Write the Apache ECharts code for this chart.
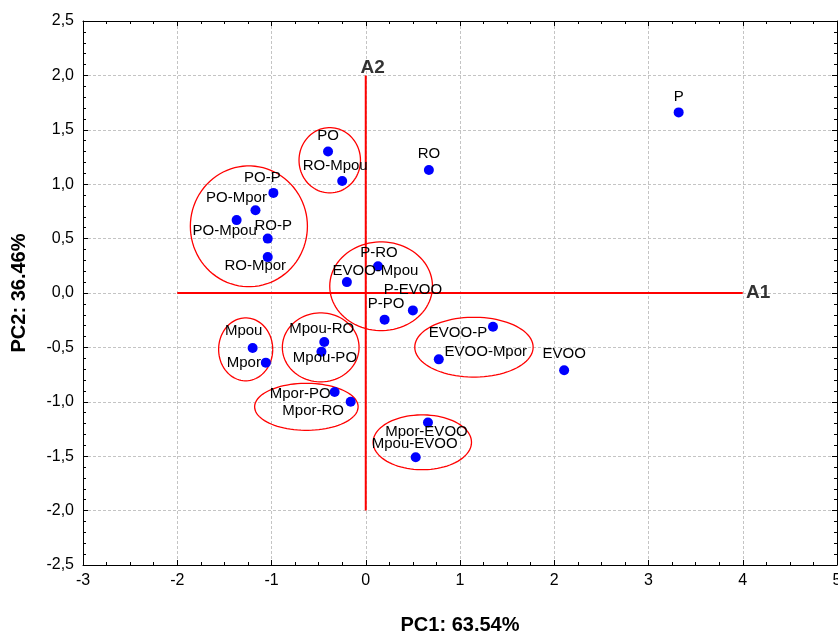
<!DOCTYPE html>
<html><head><meta charset="utf-8">
<script src="https://cdn.jsdelivr.net/npm/echarts@6/dist/echarts.min.js"></script>
<style>html,body{margin:0;padding:0;background:#fff}#c{width:838px;height:632px}</style>
</head><body><div id="c"></div>
<script>
// ---- data ----
const names = ['P','RO','PO','RO-Mpou','PO-P','PO-Mpor','PO-Mpou','RO-P','RO-Mpor','P-RO','EVOO-Mpou','P-EVOO','P-PO','Mpou-RO','Mpou-PO','EVOO-P','EVOO-Mpor','EVOO','Mpor-EVOO','Mpou-EVOO','Mpor-PO','Mpor-RO','Mpou','Mpor'];
const pc1 = [3.32, 0.67, -0.40, -0.25, -0.98, -1.17, -1.37, -1.04, -1.04, 0.13, -0.20, 0.50, 0.20, -0.44, -0.47, 1.35, 0.775, 2.105, 0.66, 0.53, -0.33, -0.16, -1.20, -1.06];
const pc2 = [1.66, 1.13, 1.30, 1.03, 0.92, 0.76, 0.67, 0.50, 0.33, 0.245, 0.10, -0.16, -0.245, -0.45, -0.54, -0.31, -0.61, -0.71, -1.19, -1.51, -0.91, -1.00, -0.505, -0.64];
// group ellipses (center and radii in PC units)
const ellCx = [-1.24, -0.382, 0.163, -0.478, -1.274, -0.63, 1.148, 0.60];
const ellCy = [0.613, 1.22, 0.062, -0.50, -0.518, -1.046, -0.498, -1.372];
const ellRx = [0.621, 0.326, 0.545, 0.407, 0.287, 0.549, 0.628, 0.522];
const ellRy = [0.555, 0.30, 0.408, 0.317, 0.289, 0.216, 0.275, 0.252];
// reference axes A1 / A2
const a1X = [-2, 4];
const a2Y = [-2, 2];
// label placement (pixels, relative to the dot)
const labelOffsets = [[0,-16],[0,-16],[0,-15.5],[-7,-15],[-11,-15],[-19,-12.5],[-12,11],[5.5,-13],[-12.5,8.5],[1,-13.5],[28.5,-11.5],[0,-21],[1.5,-15.5],[-2.5,-13],[3.5,6.5],[-35,6.5],[47,-8],[0,-16],[-1.5,9.5],[-1,-13],[-34.5,1.5],[-37.5,9],[-9,-17],[-22,0]];

const FONT = 'Liberation Sans, Arial, Helvetica, sans-serif';
const gridLine = {show:true, lineStyle:{color:'#c4c4c4', type:[3,2], width:1}};
const tickStyle = {show:true, inside:true, length:5, lineStyle:{color:'#000'}};
function minor(n){return {show:true, splitNumber:n, length:3, lineStyle:{color:'#000'}};}
const yFmt = v => v.toFixed(1).replace('.', ',');

const scatterData = names.map((n,i)=>({
  name:n, value:[pc1[i], pc2[i]],
  label:{offset:labelOffsets[i]}
}));
const ellData = ellCx.map((c,i)=>[c, ellCy[i], ellRx[i], ellRy[i]]);

const chart = echarts.init(document.getElementById('c'), null, {renderer:'canvas'});
chart.setOption({
  animation:false,
  backgroundColor:'#fff',
  textStyle:{fontFamily:FONT},
  grid:{left:83, right:1, top:21, bottom:67, containLabel:false, outerBoundsMode:'none'},
  xAxis:[{
    type:'value', min:-3, max:5, interval:1, position:'bottom',
    axisLine:{show:true, onZero:false, lineStyle:{color:'#000', width:1}},
    axisTick:tickStyle, minorTick:minor(4), splitLine:gridLine,
    axisLabel:{color:'#000', fontSize:16, margin:8, fontFamily:FONT, hideOverlap:false},
    name:'PC1: 63.54%', nameLocation:'middle', nameGap:50,
    nameTextStyle:{fontSize:20, fontWeight:'bold', color:'#000', fontFamily:FONT}
  },{
    type:'value', min:-3, max:5, interval:1, position:'top',
    axisLine:{show:true, onZero:false, lineStyle:{color:'#000', width:1}},
    axisTick:tickStyle, minorTick:minor(4), splitLine:{show:false}, axisLabel:{show:false}
  }],
  yAxis:[{
    type:'value', min:-2.5, max:2.5, interval:0.5, position:'left',
    axisLine:{show:true, onZero:false, lineStyle:{color:'#000', width:1}},
    axisTick:tickStyle, minorTick:minor(5), splitLine:gridLine,
    axisLabel:{color:'#000', fontSize:16, margin:9, formatter:yFmt, fontFamily:FONT},
    name:'PC2: 36.46%', nameLocation:'middle', nameGap:54,
    nameTextStyle:{fontSize:20, fontWeight:'bold', color:'#000', fontFamily:FONT}
  },{
    type:'value', min:-2.5, max:2.5, interval:0.5, position:'right',
    axisLine:{show:true, onZero:false, lineStyle:{color:'#000', width:1}},
    axisTick:tickStyle, minorTick:minor(5), splitLine:{show:false}, axisLabel:{show:false}
  }],
  series:[
    {type:'line', data:[[a1X[0],0],[a1X[1],0]], showSymbol:false, silent:true,
     lineStyle:{color:'#ff0000', width:2}, z:2},
    {type:'line', data:[[0,a2Y[0]],[0,a2Y[1]]], showSymbol:false, silent:true,
     lineStyle:{color:'#ff0000', width:2}, z:2},
    {type:'custom', data:ellData, encode:{x:0, y:1}, z:3, silent:true,
     renderItem:function(params, api){
       const c = api.coord([api.value(0), api.value(1)]);
       const s = api.size([api.value(2), api.value(3)]);
       const pts = [];
       for(let k=0;k<=90;k++){const t=k/90*2*Math.PI; pts.push([c[0]+s[0]*Math.cos(t), c[1]+s[1]*Math.sin(t)]);}
       return {type:'polyline', shape:{points:pts}, style:{fill:null, stroke:'#ff0000', lineWidth:1.3}};
     }},
    {type:'scatter', data:scatterData, symbol:'circle', symbolSize:10, z:5,
     itemStyle:{color:'#0000ff', opacity:1},
     label:{show:true, position:'inside', formatter:'{b}', color:'#000', fontSize:15, fontFamily:FONT,
            align:'center', verticalAlign:'middle'}},
    {type:'scatter', symbolSize:0, z:6, silent:true,
     data:[
       {name:'A1', value:[a1X[1],0], label:{offset:[15.5,0]}},
       {name:'A2', value:[0,a2Y[1]], label:{offset:[7,-7.5]}}
     ],
     label:{show:true, position:'inside', formatter:'{b}', color:'#000', fontSize:19, fontWeight:'bold',
            fontFamily:FONT, align:'center', verticalAlign:'middle'}}
  ]
});
</script></body></html>
